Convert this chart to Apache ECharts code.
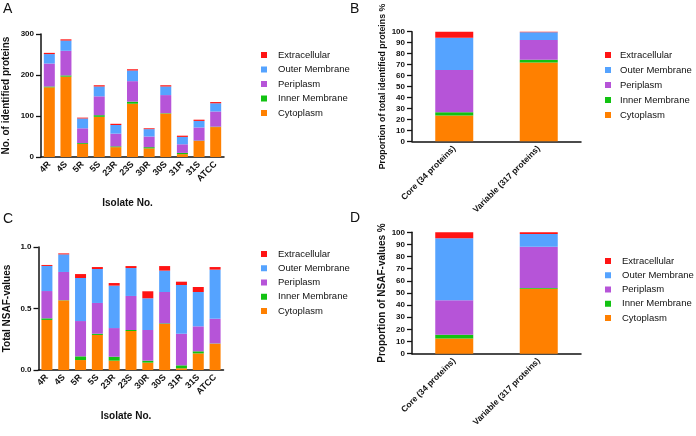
<!DOCTYPE html>
<html>
<head>
<meta charset="utf-8">
<script src="https://cdn.jsdelivr.net/npm/echarts@6/dist/echarts.min.js"></script>
<style>
  html, body { margin: 0; padding: 0; background: #fff; }
  #chart { width: 696px; height: 436px; }
</style>
</head>
<body>
<div id="chart"></div>
<script>
// categories
const isolates = ['4R', '4S', '5R', '5S', '23R', '23S', '30R', '30S', '31R', '31S', 'ATCC']
const groups = ['Core (34 proteins)', 'Variable (317 proteins)']
const locations = ['Cytoplasm', 'Inner Membrane', 'Periplasm', 'Outer Membrane', 'Extracellular']
const legendOrder = ['Extracellular', 'Outer Membrane', 'Periplasm', 'Inner Membrane', 'Cytoplasm']

// A: number of identified proteins per isolate
const countCyto = [170, 196, 32, 98, 24, 130, 21, 106, 7, 39, 73]
const countInner = [2, 3, 2, 4, 2, 5, 3, 1, 3, 1, 1]
const countPeri = [56, 60, 36, 46, 31, 50, 26, 44, 21, 32, 37]
const countOuter = [23, 25, 24, 24, 21, 26, 18, 21, 18, 16, 20]
const countExtra = [3, 3, 2, 3, 3, 3, 2, 3, 3, 3, 3]

// C: total NSAF values per isolate
const nsafCyto = [0.407, 0.566, 0.081, 0.285, 0.076, 0.317, 0.060, 0.374, 0.014, 0.135, 0.214]
const nsafInner = [0.013, 0.002, 0.030, 0.010, 0.032, 0.008, 0.016, 0.005, 0.024, 0.017, 0.002]
const nsafPeri = [0.222, 0.229, 0.287, 0.250, 0.233, 0.277, 0.249, 0.255, 0.257, 0.203, 0.201]
const nsafOuter = [0.204, 0.143, 0.350, 0.276, 0.345, 0.227, 0.258, 0.174, 0.396, 0.279, 0.399]
const nsafExtra = [0.008, 0.008, 0.032, 0.016, 0.021, 0.016, 0.057, 0.037, 0.027, 0.041, 0.021]

// B: proportion of total identified proteins (%)
const propCyto = [23.5, 72]
const propInner = [3, 2.5]
const propPeri = [38.5, 18]
const propOuter = [29.5, 7]
const propExtra = [5.5, 0.5]

// D: proportion of NSAF values (%)
const nsafPropCyto = [12.6, 53.6]
const nsafPropInner = [3, 0.5]
const nsafPropPeri = [28.5, 34]
const nsafPropOuter = [51, 10.5]
const nsafPropExtra = [4.9, 1.4]

const colors = {
  'Cytoplasm': '#FF8000',
  'Inner Membrane': '#12C212',
  'Periplasm': '#B654D8',
  'Outer Membrane': '#55A3FF',
  'Extracellular': '#FF1414'
}

const font = 'Liberation Sans, Arial, sans-serif'

const chart = echarts.init(document.getElementById('chart'))

// 每个面板的坐标轴
const makeX = (idx, cats, labelSize, name) => ({
  type: 'category',
  gridIndex: idx,
  data: cats,
  name: name,
  nameLocation: 'middle',
  nameGap: 41,
  nameTextStyle: { fontFamily: font, fontWeight: 'bold', fontSize: 10, color: '#111', padding: [0, 10, 0, 0] },
  axisLine: { lineStyle: { color: '#111', width: 1.5 } },
  axisTick: { alignWithLabel: true, length: 4, lineStyle: { color: '#111', width: 1.3 } },
  axisLabel: { rotate: 45, margin: 6, fontFamily: font, fontWeight: 'bold', fontSize: labelSize, color: '#111' }
})

const makeY = (idx, max, interval, name, nameSize, nameGap, fmt) => ({
  type: 'value',
  gridIndex: idx,
  min: 0,
  max: max,
  interval: interval,
  name: name,
  nameLocation: 'middle',
  nameGap: nameGap,
  nameTextStyle: { fontFamily: font, fontWeight: 'bold', fontSize: nameSize, color: '#111' },
  splitLine: { show: false },
  axisLine: { show: true, lineStyle: { color: '#111', width: 1.5 } },
  axisTick: { show: true, length: 5, lineStyle: { color: '#111', width: 1.3 } },
  axisLabel: { margin: 7, fontFamily: font, fontWeight: 'bold', fontSize: 8, color: '#111', formatter: fmt }
})

const makeSeries = (idx, stack, values, width) =>
  locations.map((loc, i) => ({
    name: loc,
    type: 'bar',
    xAxisIndex: idx,
    yAxisIndex: idx,
    stack: stack,
    barWidth: width,
    data: values[i],
    itemStyle: { color: colors[loc] },
    emphasis: { disabled: true }
  }))

const makeLegend = (left, top, gap, textPad) => ({
  left: left,
  top: top,
  orient: 'vertical',
  data: legendOrder,
  icon: 'rect',
  itemWidth: 6,
  itemHeight: 6,
  itemGap: gap,
  selectedMode: false,
  textStyle: { fontFamily: font, fontSize: 9.5, color: '#111', lineHeight: 10, padding: [0, 0, 0, textPad] }
})

const letter = (text, left, top) => ({
  text: text, left: left, top: top, padding: 0,
  textStyle: { fontFamily: font, fontWeight: 'normal', fontSize: 14, color: '#111' }
})

const option = {
  animation: false,
  color: locations.map(l => colors[l]),
  title: [
    letter('A', 3, 2),
    letter('B', 350, 2),
    letter('C', 3, 212),
    letter('D', 350, 211)
  ],
  legend: [
    makeLegend(256, 45, 4.5, 6),
    makeLegend(600, 45, 5, 4),
    makeLegend(256, 244, 4.25, 6),
    makeLegend(600, 251, 4.25, 6)
  ],
  grid: [
    { left: 41, top: 34, width: 183, height: 123 },
    { left: 412, top: 31.7, width: 169, height: 109.6 },
    { left: 38.5, top: 247, width: 185, height: 123 },
    { left: 412, top: 232.3, width: 169, height: 121.4 }
  ],
  xAxis: [
    makeX(0, isolates, 9, 'Isolate No.'),
    makeX(1, groups, 8.5, ''),
    makeX(2, isolates, 9, 'Isolate No.'),
    makeX(3, groups, 8.5, '')
  ],
  yAxis: [
    makeY(0, 300, 100, 'No. of identified proteins', 10, 29.5),
    makeY(1, 100, 10, 'Proportion of total identified proteins %', 8.8, 24.5),
    makeY(2, 1, 0.5, 'Total NSAF-values', 10, 26, v => v.toFixed(1)),
    makeY(3, 100, 10, 'Proportion of NSAF-values %', 10, 25)
  ],
  series: [
    ...makeSeries(0, 'a', [countCyto, countInner, countPeri, countOuter, countExtra], 11),
    ...makeSeries(1, 'b', [propCyto, propInner, propPeri, propOuter, propExtra], 38),
    ...makeSeries(2, 'c', [nsafCyto, nsafInner, nsafPeri, nsafOuter, nsafExtra], 11),
    ...makeSeries(3, 'd', [nsafPropCyto, nsafPropInner, nsafPropPeri, nsafPropOuter, nsafPropExtra], 38)
  ]
}

chart.setOption(option)
</script>
</body>
</html>
